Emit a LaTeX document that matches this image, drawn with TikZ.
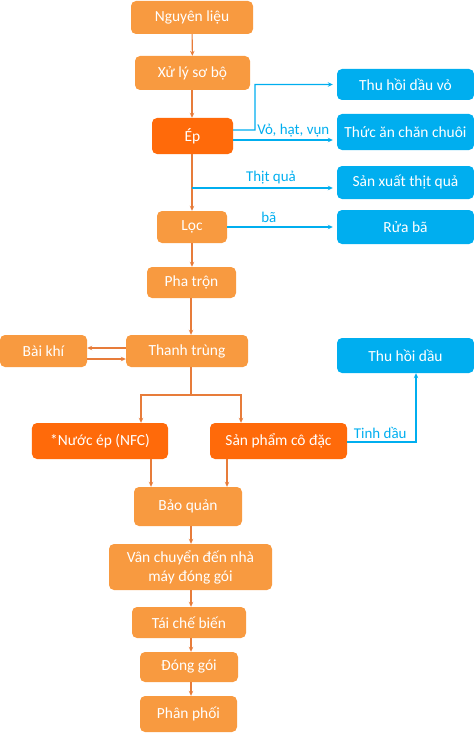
\documentclass[tikz,border=0pt]{standalone}
\usepackage{fontspec}
\setmainfont{Carlito}
\usetikzlibrary{arrows.meta}
\definecolor{lightorange}{HTML}{F89A40}
\definecolor{darkorange}{HTML}{FF6A0A}
\definecolor{skyblue}{HTML}{00AEEF}
\definecolor{linkorange}{HTML}{E77C3A}
\begin{document}
\begin{tikzpicture}[x=1bp, y=-1bp,
  box/.style={rounded corners=5bp, text=white, align=center, inner sep=0pt, font=\fontsize{15.5}{19}\selectfont},
  lbox/.style={box, fill=lightorange},
  dbox/.style={box, fill=darkorange},
  bbox/.style={box, fill=skyblue, minimum width=137bp},
  oarrow/.style={draw=linkorange, line width=1.1pt, -{Stealth[length=5pt,width=4.5pt]}},
  barrow/.style={draw=skyblue, line width=1.1pt, -{Stealth[length=5pt,width=4.5pt]}, shorten >=4bp},
  lbl/.style={text=skyblue, font=\fontsize{15}{17}\selectfont}]
\useasboundingbox (0,0) rectangle (474,735);

\node[lbox, minimum width=122bp, minimum height=33bp] (nl) at (192,17.5) {Nguyên liệu};
\node[lbox, minimum width=115bp, minimum height=34bp] (xl) at (192.5,73) {Xử lý sơ bộ};
\node[dbox, minimum width=81bp, minimum height=36bp] (ep) at (192.5,136) {Ép};
\node[lbox, minimum width=70bp, minimum height=32bp] (loc) at (192,227) {Lọc};
\node[lbox, minimum width=89bp, minimum height=31bp] (pt) at (191.5,282.5) {Pha trộn};
\node[lbox, minimum width=122bp, minimum height=32bp] (tt) at (187,351) {Thanh trùng};
\node[lbox, minimum width=87bp, minimum height=32bp] (bk) at (43.5,351) {Bài khí};
\node[dbox, minimum width=136bp, minimum height=36bp] (nfc) at (100,441) {*Nước ép (NFC)};
\node[dbox, minimum width=137bp, minimum height=36bp] (spcd) at (278.5,441) {Sản phẩm cô đặc};
\node[lbox, minimum width=108bp, minimum height=39bp] (bq) at (188,506.5) {Bảo quản};
\node[lbox, minimum width=163bp, minimum height=46bp] (vc) at (190.5,567) {Vân chuyển đến nhà\\máy đóng gói};
\node[lbox, minimum width=114bp, minimum height=31bp] (tcb) at (189,622.5) {Tái chế biến};
\node[lbox, minimum width=98bp, minimum height=30bp] (dg) at (189,667) {Đóng gói};
\node[lbox, minimum width=97bp, minimum height=36bp] (pp) at (188.5,714) {Phân phối};

\node[bbox, minimum height=31bp] (tdv) at (405.5,84.5) {Thu hồi dầu vỏ};
\node[bbox, minimum height=36bp] (ta) at (405.5,132) {Thức ăn chăn chuôi};
\node[bbox, minimum height=33bp] (sx) at (405.5,182.5) {Sản xuất thịt quả};
\node[bbox, minimum height=34bp] (rb) at (405.5,227) {Rửa bã};
\node[bbox, minimum height=35bp] (thd) at (405.5,355.5) {Thu hồi dầu};

\coordinate (ngoat) at (255,130);
\coordinate (thit) at (192,188);
\coordinate (chia) at (191,395);
\coordinate (tinh) at (416,442);

\draw[oarrow] (nl) -- (xl);
\draw[oarrow] (xl.south -| thit) -- (ep.north -| thit);
\draw[oarrow] (ep.south -| thit) -- (loc.north -| thit);
\draw[oarrow] (loc) -- (pt.north -| loc);
\draw[oarrow] (pt.south -| chia) -- (tt.north -| chia);
\draw[oarrow] ([yshift=3bp]tt.west) -- ([yshift=3bp]bk.east);
\draw[oarrow] ([yshift=-8bp]bk.east) -- ([yshift=-8bp]tt.west);
\draw[draw=linkorange, line width=1.1pt] (tt.south -| chia) -- (chia);
\draw[oarrow] (chia) -| ([xshift=41bp]nfc.north);
\draw[oarrow] (chia) -| ([xshift=-37.5bp]spcd.north);
\draw[oarrow] ([xshift=51bp]nfc.south) -- ([xshift=51bp]nfc.south |- bq.north);
\draw[oarrow] ([xshift=-51.5bp]spcd.south) -- ([xshift=-51.5bp]spcd.south |- bq.north);
\draw[oarrow] (bq.south -| chia) -- (vc.north -| chia);
\draw[oarrow] (vc.south -| chia) -- (tcb.north -| chia);
\draw[oarrow] (tcb.south -| chia) -- (dg.north -| chia);
\draw[oarrow] (dg.south -| chia) -- (pp.north -| chia);

\draw[barrow] ([yshift=6bp]ep.east) -- (ngoat) |- (tdv.west);
\draw[barrow] ([yshift=-4bp]ep.east) -- ([yshift=-4bp]ep.east -| ta.west)
  node[lbl, pos=0.58, above=-1bp] {Vỏ, hạt, vụn};
\draw[barrow] (thit) -- (thit -| sx.west)
  node[lbl, pos=0.545, above=0bp] {Thịt quả};
\draw[barrow] (loc) -- (rb)
  node[lbl, pos=0.38, above=1bp] {bã};
\draw[barrow, shorten >=0bp] (spcd.east |- tinh) -- (tinh)
  node[lbl, pos=0.48, above=0bp] {Tinh dầu} -- (tinh |- thd.south);
\end{tikzpicture}
\end{document}
